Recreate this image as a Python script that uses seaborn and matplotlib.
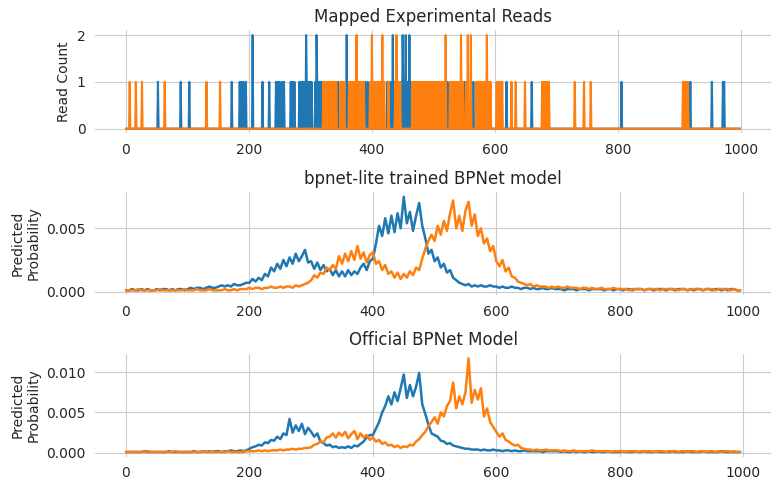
import numpy as np
import pandas as pd
import matplotlib
matplotlib.use("Agg")
import matplotlib.pyplot as plt
import seaborn as sns

# ---------------- data ----------------
# Mapped reads: positions (bp) of reads and their counts
blue_read_pos_1 = [52, 89, 103, 172, 185, 188, 191, 195, 222, 233, 244, 247, 250, 254, 257, 268,
                   271, 274, 282, 284, 286, 288, 290, 294, 296, 298, 300, 302, 308, 311, 313, 315,
                   317, 319, 345, 389, 393, 425, 430, 436, 448, 451, 453, 457, 459, 463, 478, 490,
                   509, 523, 551, 565, 619, 660, 806, 918, 953, 971, 973]
blue_read_pos_2 = [206, 293, 310, 359, 434, 450, 455, 461]
orange_read_pos_1 = [6, 16, 26, 63, 131, 153,
                     321, 324, 327, 330, 333, 336, 339, 342, 349, 352, 355, 363, 366, 369, 372,
                     378, 381, 384, 387, 397, 403, 406, 409, 412, 415, 420, 427, 438, 443, 446,
                     466, 469, 472, 475, 478, 481, 484, 487, 490, 493, 496, 499, 502, 505, 508,
                     511, 514, 517, 527, 530, 533, 536, 539, 542, 548, 553, 570, 573, 576, 579,
                     582, 585, 590, 593, 603, 606, 609, 612, 627, 634, 649, 677, 680, 683, 686,
                     688, 730, 745, 756, 906, 909, 912, 914]
orange_read_pos_2 = [375, 400, 417, 440, 520, 545, 556, 561, 587]

seq_len = 1000
step = 5  # predicted profiles read every 5 bp, values in units of 1e-4

lite_blue = [
    1,1,2,1,1,2,1,2,1,1,2,1,2,2,1,2,1,2,2,1,
    2,3,2,3,3,2,3,4,3,3,4,5,4,5,4,6,5,5,6,7,
    7,10,8,11,9,14,12,19,16,22,18,25,20,27,22,30,24,28,33,23,
    24,18,23,17,21,16,18,13,17,12,16,12,17,13,16,14,19,22,17,24,
    26,38,52,44,58,46,60,47,62,50,75,54,63,48,60,70,52,42,30,33,
    24,27,19,22,15,17,11,9,7,6,5,6,4,5,4,5,4,4,5,4,
    4,3,4,3,3,4,3,3,2,3,3,2,3,2,2,3,2,2,3,2,
    2,2,1,2,2,2,1,2,2,2,1,2,2,2,2,1,2,2,1,2,
    2,1,2,2,1,2,2,2,1,2,2,1,2,2,2,1,2,2,1,2,
    2,2,1,2,1,2,2,1,2,2,1,2,2,1,2,1,2,2,1,1,
]
lite_orange = [
    1,1,1,1,2,1,1,1,1,1,1,2,1,1,1,1,1,1,1,2,
    1,1,1,2,1,1,1,2,1,1,1,1,2,1,1,2,1,2,2,2,
    3,2,3,3,2,3,3,4,3,3,4,3,4,4,3,5,4,5,6,7,
    9,13,11,15,14,19,17,21,18,28,22,30,24,32,25,36,26,31,23,29,
    31,22,24,17,21,14,16,11,15,10,14,11,16,13,19,17,26,34,40,45,
    40,52,45,56,48,62,72,50,60,48,64,71,52,61,44,50,38,42,32,36,
    24,20,25,16,19,12,11,8,7,6,5,6,4,5,4,4,4,3,4,3,
    4,3,3,4,3,3,3,2,3,3,2,3,2,2,3,2,2,2,3,2,
    2,2,2,1,2,2,2,2,1,2,2,2,2,1,2,2,2,2,2,1,
    2,2,1,2,2,2,2,1,2,2,2,1,2,2,2,2,1,2,1,1,
]
official_blue = [
    1,1,1,1,1,1,2,1,1,1,1,1,1,1,2,1,1,1,1,1,
    1,1,2,1,1,2,1,2,1,2,2,1,2,2,3,2,2,3,2,3,
    5,7,8,10,9,13,12,16,15,20,17,24,22,42,25,34,27,36,23,31,
    26,20,24,14,12,9,10,7,8,6,7,6,8,6,9,8,11,14,19,22,
    22,30,38,50,58,70,60,75,64,80,97,68,84,70,82,99,60,48,35,24,
    22,20,15,14,11,12,9,8,7,6,5,5,4,4,4,3,4,3,3,4,
    3,3,2,3,3,2,3,2,2,3,2,2,2,2,2,1,2,2,2,2,
    2,1,2,1,1,2,1,2,1,1,2,1,1,2,1,1,2,1,1,1,
    1,2,1,1,1,2,1,1,2,1,1,1,2,1,1,1,1,2,1,1,
    1,1,2,1,1,1,1,2,1,1,1,1,1,2,1,1,1,1,1,1,
]
official_orange = [
    1,1,1,1,1,1,1,2,1,1,1,1,1,1,1,1,2,1,1,1,
    1,1,1,1,1,2,1,1,1,1,1,1,1,2,1,1,1,1,1,2,
    2,2,2,3,2,3,2,3,3,3,4,3,4,4,5,4,5,5,6,6,
    7,10,11,14,13,19,20,24,19,25,21,26,18,23,27,17,24,19,22,16,
    19,14,16,11,13,9,10,7,9,6,8,7,10,9,14,17,22,26,33,38,
    44,36,50,45,58,64,87,55,70,60,75,117,62,78,66,80,45,55,38,32,
    26,20,24,16,14,11,9,10,6,5,4,4,3,4,3,3,4,3,3,3,
    3,2,3,2,2,3,2,2,2,2,2,3,2,2,2,2,2,1,2,2,
    2,2,1,2,2,2,1,2,2,2,2,1,2,2,2,1,2,2,2,1,
    2,2,1,2,2,1,2,2,1,2,2,1,2,1,2,2,1,2,1,1,
]

titles = ["Mapped Experimental Reads", "bpnet-lite trained BPNet model", "Official BPNet Model"]
ylabels = ["Read Count", "Predicted\nProbability", "Predicted\nProbability"]

# ---------------- build tables ----------------
pos = np.arange(seq_len)
blue_reads = np.zeros(seq_len)
orange_reads = np.zeros(seq_len)
blue_reads[blue_read_pos_1] = 1
blue_reads[blue_read_pos_2] = 2
orange_reads[orange_read_pos_1] = 1
orange_reads[orange_read_pos_2] = 2

for arr in (lite_blue, lite_orange, official_blue, official_orange):
    assert len(arr) == seq_len // step, len(arr)
ppos = np.arange(0, seq_len, step)

reads_df = pd.DataFrame({"pos": pos, "blue": blue_reads, "orange": orange_reads})
lite_df = pd.DataFrame({"pos": ppos, "blue": np.array(lite_blue) * 1e-4,
                        "orange": np.array(lite_orange) * 1e-4})
off_df = pd.DataFrame({"pos": ppos, "blue": np.array(official_blue) * 1e-4,
                       "orange": np.array(official_orange) * 1e-4})

# ---------------- plot ----------------
sns.set_style("whitegrid")
plt.rcParams["font.family"] = ["DejaVu Sans"]

fig, axes = plt.subplots(3, 1, figsize=(7.81, 4.9), dpi=100)
blue_c, orange_c = "#1f77b4", "#ff7f0e"

for i, (ax, df, title, ylabel) in enumerate(zip(axes, [reads_df, lite_df, off_df], titles, ylabels)):
    lw = 1.5 if i == 0 else 1.8
    sns.lineplot(data=df, x="pos", y="blue", ax=ax, color=blue_c, linewidth=lw)
    sns.lineplot(data=df, x="pos", y="orange", ax=ax, color=orange_c, linewidth=lw)
    ax.set_title(title, fontsize=12)
    ax.set_ylabel(ylabel, fontsize=10)
    ax.set_xlabel("")
    ax.set_xticks([0, 200, 400, 600, 800, 1000])
    ax.tick_params(labelsize=10)
    sns.despine(ax=ax, left=True, bottom=True)

axes[0].set_yticks([0, 1, 2])
axes[1].set_yticks([0, 0.005])
axes[1].set_yticklabels(["0.000", "0.005"])
axes[2].set_yticks([0, 0.005, 0.010])
axes[2].set_yticklabels(["0.000", "0.005", "0.010"])

fig.subplots_adjust(left=0.122, right=0.987, top=0.938, bottom=0.068, hspace=0.57)
fig.savefig("out.png", dpi=100)
